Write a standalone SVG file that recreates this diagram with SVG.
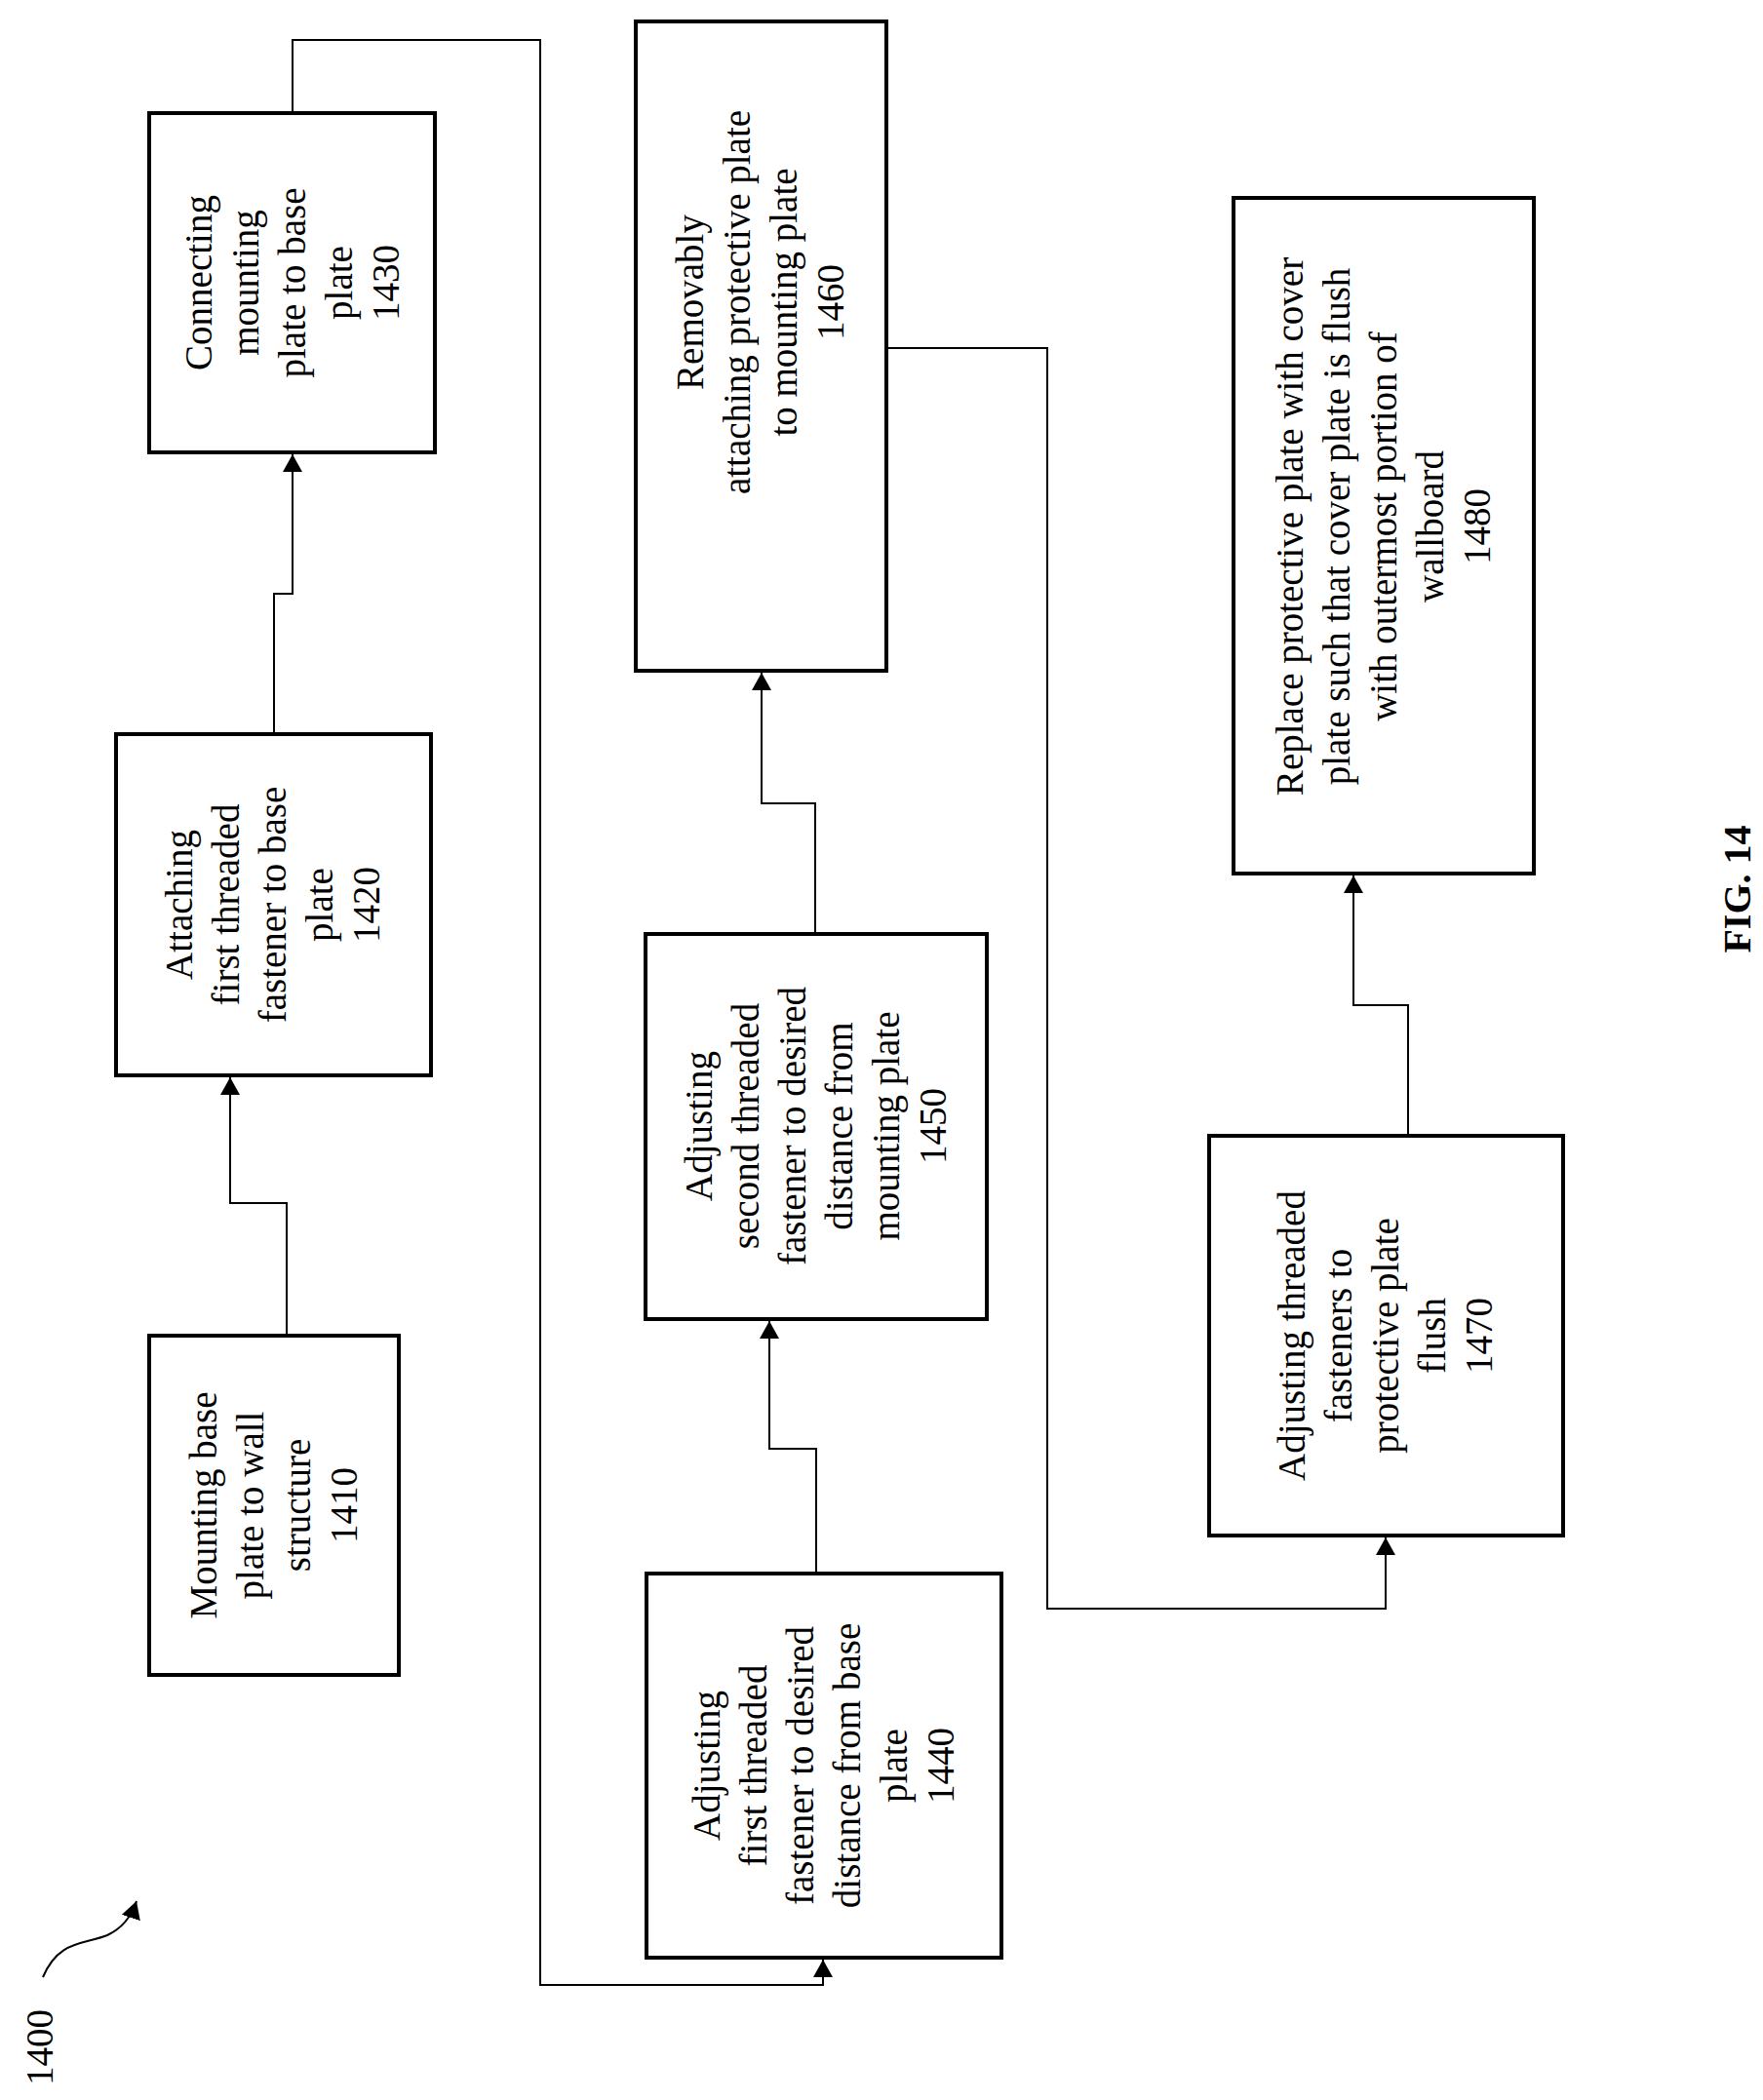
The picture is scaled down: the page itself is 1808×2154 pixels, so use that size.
<svg xmlns="http://www.w3.org/2000/svg" width="1808" height="2154" viewBox="0 0 1808 2154">
<style>
.b{fill:none;stroke:#000;stroke-width:4}
.c{fill:none;stroke:#000;stroke-width:2}
text{font-family:"Liberation Serif",serif;font-size:39px;text-anchor:middle}
</style>
<defs>
<marker id="ar" viewBox="0 0 18 20" markerWidth="18" markerHeight="20" refX="18" refY="10" orient="auto" markerUnits="userSpaceOnUse"><path d="M0,0L18,10L0,20Z"/></marker></defs>
<rect width="1808" height="2154" fill="#fff"/>
<g id="connectors">
<path class="c" d="M294,1370V1234H236V1105" marker-end="url(#ar)"/>
<path class="c" d="M281,753V609H300V466" marker-end="url(#ar)"/>
<path class="c" d="M300,116V41H554V2036H844V2010" marker-end="url(#ar)"/>
<path class="c" d="M837,1614V1486H789V1355" marker-end="url(#ar)"/>
<path class="c" d="M836,958V824H781V690" marker-end="url(#ar)"/>
<path class="c" d="M909,357H1074V1650H1421V1577" marker-end="url(#ar)"/>
<path class="c" d="M1444,1165V1031H1388V898" marker-end="url(#ar)"/>
</g>
<g id="n1410"><rect class="b" x="153" y="1370" width="256" height="348"/>
<text transform="translate(281,1544) rotate(-90)"><tspan x="0" y="-59">Mounting base</tspan><tspan x="0" dy="48">plate to wall</tspan><tspan x="0" dy="48">structure</tspan><tspan x="0" dy="48">1410</tspan></text></g>
<g id="n1420"><rect class="b" x="119" y="753" width="323" height="350"/>
<text transform="translate(280,928) rotate(-90)"><tspan x="0" y="-83">Attaching</tspan><tspan x="0" dy="48">first threaded</tspan><tspan x="0" dy="48">fastener to base</tspan><tspan x="0" dy="48">plate</tspan><tspan x="0" dy="48">1420</tspan></text></g>
<g id="n1430"><rect class="b" x="153" y="116" width="293" height="348"/>
<text transform="translate(300,290) rotate(-90)"><tspan x="0" y="-83">Connecting</tspan><tspan x="0" dy="48">mounting</tspan><tspan x="0" dy="48">plate to base</tspan><tspan x="0" dy="48">plate</tspan><tspan x="0" dy="48">1430</tspan></text></g>
<g id="n1440"><rect class="b" x="663" y="1614" width="364" height="394"/>
<text transform="translate(845,1811) rotate(-90)"><tspan x="0" y="-107">Adjusting</tspan><tspan x="0" dy="48">first threaded</tspan><tspan x="0" dy="48">fastener to desired</tspan><tspan x="0" dy="48">distance from base</tspan><tspan x="0" dy="48">plate</tspan><tspan x="0" dy="48">1440</tspan></text></g>
<g id="n1450"><rect class="b" x="662" y="958" width="350" height="395"/>
<text transform="translate(837,1155) rotate(-90)"><tspan x="0" y="-107">Adjusting</tspan><tspan x="0" dy="48">second threaded</tspan><tspan x="0" dy="48">fastener to desired</tspan><tspan x="0" dy="48">distance from</tspan><tspan x="0" dy="48">mounting plate</tspan><tspan x="0" dy="48">1450</tspan></text></g>
<g id="n1460"><rect class="b" x="652" y="22" width="257" height="666"/>
<text transform="translate(780,310) rotate(-90)"><tspan x="0" y="-59">Removably</tspan><tspan x="0" dy="48">attaching protective plate</tspan><tspan x="0" dy="48">to mounting plate</tspan><tspan x="0" dy="48">1460</tspan></text></g>
<g id="n1470"><rect class="b" x="1240" y="1165" width="363" height="410"/>
<text transform="translate(1421,1370) rotate(-90)"><tspan x="0" y="-83">Adjusting threaded</tspan><tspan x="0" dy="48">fasteners to</tspan><tspan x="0" dy="48">protective plate</tspan><tspan x="0" dy="48">flush</tspan><tspan x="0" dy="48">1470</tspan></text></g>
<g id="n1480"><rect class="b" x="1265" y="203" width="308" height="693"/>
<text transform="translate(1419,540) rotate(-90)"><tspan x="0" y="-83">Replace protective plate with cover</tspan><tspan x="0" dy="48">plate such that cover plate is flush</tspan><tspan x="0" dy="48">with outermost portion of</tspan><tspan x="0" dy="48">wallboard</tspan><tspan x="0" dy="48">1480</tspan></text></g>
<g id="label">
<text transform="translate(54,2100) rotate(-90)">1400</text>
<path class="c" d="M44,2028C60,1990 85,1995 110,1985C125,1978 135,1965 140,1950" marker-end="url(#ar)"/>
<text transform="translate(1795,912) rotate(-90)" style="font-weight:bold;font-size:40px">FIG. 14</text>
</g>
</svg>
